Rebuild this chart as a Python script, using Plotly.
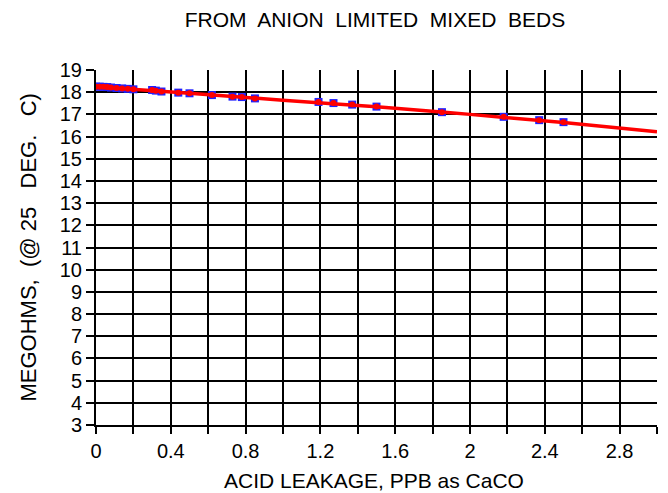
import plotly.graph_objects as go

# measured data points
leak_x = [0, 0.02, 0.04, 0.06, 0.08, 0.11, 0.14, 0.17, 0.2, 0.3, 0.32, 0.35,
          0.44, 0.5, 0.62, 0.73, 0.78, 0.85, 1.19, 1.27, 1.37, 1.5, 1.85,
          2.18, 2.37, 2.5]
megohm_y = [18.25, 18.25, 18.24, 18.23, 18.21, 18.19, 18.17, 18.15, 18.13,
            18.1, 18.07, 18.03, 17.98, 17.95, 17.87, 17.8, 17.78, 17.72,
            17.56, 17.51, 17.44, 17.35, 17.1, 16.89, 16.74, 16.65]

# fitted curve
fit_x = [0, 0.5, 1.0, 1.5, 2.0, 2.5, 3.0]
fit_y = [18.25, 17.95, 17.64, 17.34, 17.0, 16.63, 16.22]

# axis ticks
x_tickvals = [0, 0.2, 0.4, 0.6, 0.8, 1.0, 1.2, 1.4, 1.6, 1.8, 2.0, 2.2, 2.4,
              2.6, 2.8, 3.0]
x_ticktext = ["0", "", "0.4", "", "0.8", "", "1.2", "", "1.6", "", "2", "",
              "2.4", "", "2.8", ""]
y_tickvals = list(range(3, 20))

title_text = "FROM  ANION  LIMITED  MIXED  BEDS"
x_title = "ACID LEAKAGE, PPB as CaCO"
y_title = "MEGOHMS,  (@ 25   DEG.   C)"

FONT = "Liberation Sans, Arial, sans-serif"

# page body has an 8px margin: plot area drawn at 96..657 x 70..425 on screen
L, T, PW, PH = 88, 62, 561, 355
W, H = 668, 493

fig = go.Figure()
fig.add_trace(go.Scatter(x=leak_x, y=megohm_y, mode="markers",
                         marker=dict(symbol="square", size=8, color="#2020ff",
                                     line=dict(width=0)),
                         showlegend=False, hoverinfo="skip"))
fig.add_trace(go.Scatter(x=fit_x, y=fit_y, mode="lines",
                         line=dict(color="#ff0000", width=3.5, shape="spline"),
                         showlegend=False, hoverinfo="skip"))
fig.add_trace(go.Scatter(x=leak_x, y=megohm_y, mode="markers",
                         marker=dict(symbol="circle", size=6, color="#ff0000",
                                     line=dict(width=0)),
                         showlegend=False, hoverinfo="skip"))

fig.update_layout(
    width=W, height=H,
    margin=dict(l=L, r=W - L - PW, t=T, b=H - T - PH),
    paper_bgcolor="white", plot_bgcolor="white",
    font=dict(family=FONT, color="black", size=20),
    title=dict(text=title_text, x=367 / W, xanchor="center", xref="container",
               y=1 - 12 / H, yanchor="middle", yref="container",
               font=dict(family=FONT, size=21, color="black")),
    xaxis=dict(range=[0, 3.0], tickmode="array", tickvals=x_tickvals,
               ticktext=x_ticktext, showgrid=True, gridcolor="black",
               gridwidth=2, showline=True, linecolor="black", linewidth=2,
               ticks="outside", ticklen=7, tickwidth=2, tickcolor="black",
               zeroline=False, tickfont=dict(size=20), fixedrange=True),
    yaxis=dict(range=[3, 19], tickmode="array", tickvals=y_tickvals,
               showgrid=True, gridcolor="black", gridwidth=2, showline=True,
               linecolor="black", linewidth=2, ticks="outside", ticklen=8,
               tickwidth=2, tickcolor="black", zeroline=False,
               tickfont=dict(size=20), fixedrange=True),
    annotations=[
        dict(text=x_title, xref="paper", yref="paper", x=(366 - L) / PW, y=0,
             yshift=-55, xanchor="center", yanchor="middle", showarrow=False,
             font=dict(family=FONT, size=21, color="black")),
        dict(text=y_title, xref="paper", yref="paper", x=0, y=0.5,
             xshift=-68, textangle=-90, xanchor="center", yanchor="middle",
             showarrow=False, font=dict(family=FONT, size=22, color="black")),
    ],
)

fig.write_html("out.html")
